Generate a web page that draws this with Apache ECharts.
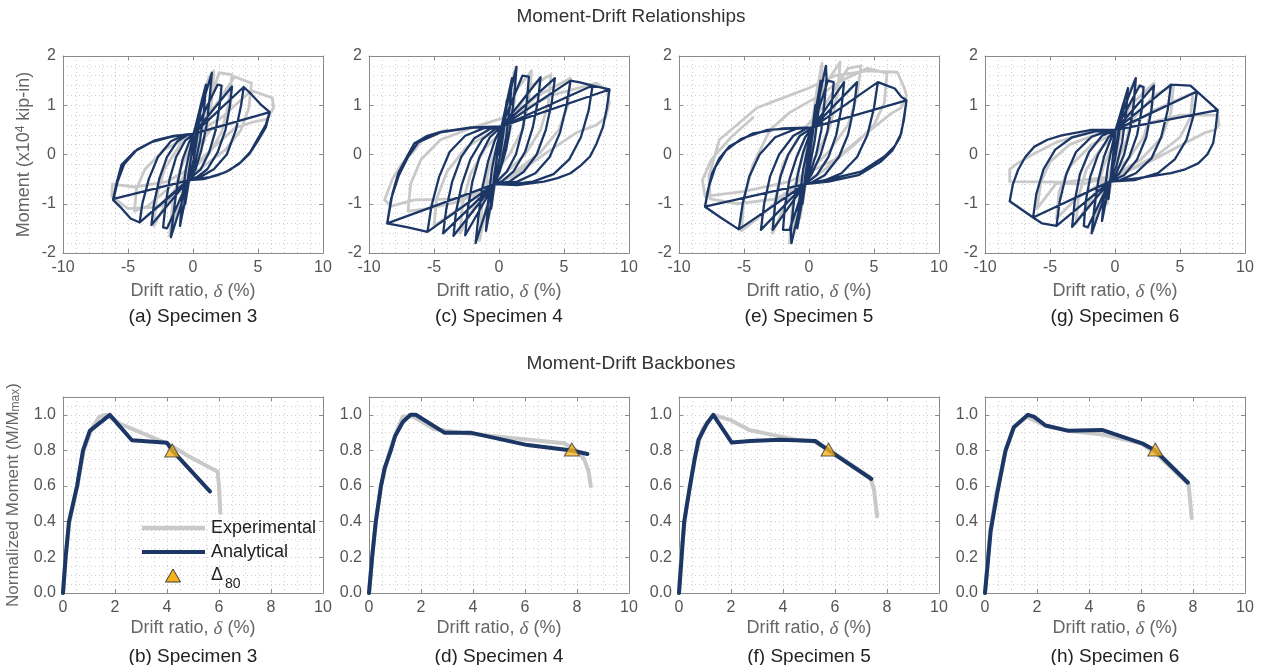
<!DOCTYPE html>
<html>
<head>
<meta charset="utf-8">
<script src="https://cdn.jsdelivr.net/npm/echarts@6/dist/echarts.min.js"></script>
<style>
  html, body { margin: 0; padding: 0; background: #fff; }
  #chart { width: 1262px; height: 665px; }
</style>
</head>
<body>
<div id="chart"></div>
<script>
// ---------- Figure text ----------
const mainTitles = ['Moment-Drift Relationships', 'Moment-Drift Backbones'];
const topLabels = ['(a) Specimen 3', '(c) Specimen 4', '(e) Specimen 5', '(g) Specimen 6'];
const bottomLabels = ['(b) Specimen 3', '(d) Specimen 4', '(f) Specimen 5', '(h) Specimen 6'];
const legendNames = ['Experimental', 'Analytical'];

// ---------- Axis ranges / ticks ----------
const hystDrift = { min: -10, max: 10, interval: 5, minor: 5 };
const hystMoment = { min: -2, max: 2, interval: 1, minor: 5 };
const bbDrift = { min: 0, max: 10, interval: 2, minor: 4 };
const bbMoment = { min: 0, max: 1.1, interval: 0.2, minor: 4 };

// ---------- Hysteresis: drift (%) vs moment (x10^4 kip-in) ----------
const spec3Analytical = [
  [0,0],[0.6,1.0],[0.35,0.4],[0.05,-0.1],[-0.3,-0.5],[-0.6,-1.0],[-0.35,-0.4],[-0.05,0.1],[0.05,0.42],
  [1.0,1.42],[0.85,0.9],[0.55,0.3],[0.15,-0.2],[-0.3,-0.5],[-1.0,-1.45],[-0.85,-0.9],[-0.55,-0.3],[-0.15,0.2],[0.05,0.42],
  [1.45,1.66],[1.3,1.2],[1.05,0.6],[0.65,0.1],[0.2,-0.3],[-0.3,-0.5],[-1.7,-1.68],[-1.5,-1.2],[-1.2,-0.6],[-0.8,-0.1],[-0.3,0.25],[0.05,0.42],
  [1.9,1.42],[2.2,1.40],[2.05,1.0],[1.75,0.5],[1.25,0.05],[0.6,-0.3],[-0.3,-0.5],[-2.0,-1.5],[-2.3,-1.48],[-2.1,-1.0],[-1.8,-0.5],[-1.3,-0.05],[-0.6,0.28],[0.05,0.42],
  [3.0,1.38],[2.85,1.0],[2.5,0.5],[1.9,0.05],[1.1,-0.3],[0.3,-0.46],[-0.3,-0.5],[-3.2,-1.43],[-3.0,-1.0],[-2.6,-0.5],[-2.0,-0.05],[-1.2,0.27],[-0.4,0.4],[0.05,0.42],
  [3.9,1.37],[3.7,1.0],[3.3,0.5],[2.6,0.0],[1.6,-0.3],[0.6,-0.45],[-0.3,-0.5],[-4.1,-1.38],[-3.9,-1.0],[-3.4,-0.5],[-2.7,-0.05],[-1.7,0.27],[-0.6,0.4],[0.05,0.42],
  [3.9,1.37],[4.5,1.22],[5.2,1.02],[5.9,0.86],[5.6,0.6],[5.0,0.33],[4.4,0.05],[3.7,-0.15],[2.8,-0.32],[1.9,-0.42],[0.8,-0.5],[-0.3,-0.52],
  [-4.1,-1.38],[-4.8,-1.3],[-5.5,-1.09],[-6.15,-0.92],[-5.9,-0.6],[-5.5,-0.21],[-4.5,0.06],[-3.2,0.25],[-1.7,0.36],[-0.5,0.41],[0.05,0.42],
  [5.9,0.86],[5.6,0.55],[5.0,0.28],[4.3,0.0],[3.5,-0.2],[2.5,-0.36],[1.3,-0.46],[-0.3,-0.52],
  [-6.1,-0.9],[-5.8,-0.55],[-5.3,-0.2],[-4.3,0.1],[-3.0,0.28],[-1.5,0.38],[0.05,0.42],[5.9,0.86]
];
const spec3Experimental = [
  [0,0],[0.7,1.15],[0.45,0.45],[0.0,-0.15],[-0.7,-1.1],[-0.45,-0.45],[0.0,0.15],[0.7,1.15],
  [1.2,1.55],[1.6,1.7],[1.4,1.0],[0.9,0.3],[0.0,-0.25],[-1.0,-0.9],[-1.8,-1.65],[-1.55,-0.95],[-1.0,-0.3],[0.0,0.25],[1.2,1.0],
  [2.0,1.66],[3.0,1.62],[2.75,1.05],[2.2,0.45],[1.2,0.0],[-0.3,-0.35],[-1.8,-0.85],[-3.0,-1.45],[-2.8,-0.85],[-2.2,-0.3],[-1.0,0.2],[0.5,0.55],[2.0,1.1],[3.2,1.58],
  [4.5,1.45],[4.3,0.95],[3.7,0.5],[2.5,0.1],[0.5,-0.3],[-1.5,-0.6],[-3.5,-1.05],[-4.5,-1.15],[-4.35,-0.7],[-3.7,-0.3],[-2.2,0.1],[0.0,0.4],[2.2,0.75],[4.5,1.3],
  [6.1,1.15],[6.2,0.95],[5.7,0.72],[4.5,0.65],[3.3,0.55],[1.8,0.2],[0.0,-0.25],[-2.0,-0.55],[-4.5,-0.66],[-6.2,-0.6],[-6.25,-0.85],[-5.0,-1.1],[-2.8,-1.07],[-2.0,-1.0],[-1.0,-0.6],[0.2,0.1],[1.5,0.55]
];

const spec4Analytical = [
  [0,0],[0.6,1.1],[0.4,0.55],[0.1,0.0],[-0.35,-0.6],[-0.6,-1.1],[-0.4,-0.5],[-0.1,0.05],[0.2,0.57],
  [1.0,1.55],[0.85,1.0],[0.55,0.35],[0.15,-0.2],[-0.35,-0.6],[-1.0,-1.55],[-0.85,-1.0],[-0.55,-0.3],[-0.15,0.2],[0.2,0.57],
  [1.35,1.78],[1.2,1.3],[0.95,0.7],[0.55,0.1],[0.05,-0.35],[-0.35,-0.6],[-1.8,-1.8],[-1.6,-1.3],[-1.3,-0.7],[-0.85,-0.15],[-0.3,0.3],[0.2,0.57],
  [1.8,1.6],[2.3,1.58],[2.15,1.1],[1.85,0.55],[1.3,0.0],[0.6,-0.35],[-0.35,-0.6],[-2.6,-1.64],[-2.4,-1.1],[-2.05,-0.55],[-1.5,-0.05],[-0.7,0.35],[0.2,0.57],
  [3.2,1.57],[3.0,1.1],[2.6,0.55],[2.0,0.05],[1.1,-0.35],[0.2,-0.55],[-0.35,-0.6],[-3.5,-1.65],[-3.3,-1.15],[-2.85,-0.6],[-2.2,-0.1],[-1.3,0.3],[-0.3,0.52],[0.2,0.57],
  [4.3,1.55],[4.05,1.05],[3.6,0.5],[2.9,0.0],[1.9,-0.35],[0.8,-0.55],[-0.35,-0.6],[-4.3,-1.6],[-4.05,-1.1],[-3.6,-0.55],[-2.9,-0.05],[-1.9,0.33],[-0.7,0.52],[0.2,0.57],
  [5.5,1.5],[5.2,1.0],[4.7,0.45],[3.9,-0.05],[2.8,-0.38],[1.4,-0.55],[-0.35,-0.6],[-5.5,-1.57],[-5.2,-1.05],[-4.6,-0.45],[-3.8,0.05],[-2.6,0.38],[-1.2,0.53],[0.2,0.57],
  [5.5,1.5],[6.3,1.46],[7.2,1.4],[6.9,0.9],[6.3,0.35],[5.4,-0.1],[4.2,-0.4],[2.6,-0.55],[1.0,-0.6],[-0.35,-0.6],
  [-5.5,-1.57],[-7.0,-1.48],[-8.6,-1.4],[-8.2,-0.8],[-7.75,-0.38],[-7.1,-0.05],[-6.5,0.23],[-5.5,0.38],[-4.45,0.46],[-2.15,0.55],[0.2,0.57],
  [7.2,1.4],[8.5,1.32],[8.3,0.95],[8.0,0.56],[7.5,0.22],[7.0,-0.04],[6.3,-0.22],[5.5,-0.38],[4.5,-0.48],[3.45,-0.55],[1.4,-0.62],[-0.35,-0.6],
  [-8.6,-1.4],[-8.3,-0.9],[-7.7,-0.42],[-7.0,-0.05],[-6.2,0.25],[-4.5,0.45],[-2.2,0.54],[0.2,0.57],[8.5,1.32]
];
const spec4Experimental = [
  [0,0],[0.8,1.3],[0.5,0.5],[0.0,-0.2],[-0.8,-1.3],[-0.5,-0.5],[0.0,0.2],[0.8,1.3],
  [1.3,1.78],[1.2,1.1],[0.8,0.4],[0.0,-0.3],[-1.0,-1.1],[-1.5,-1.75],[-1.3,-1.0],[-0.8,-0.3],[0.0,0.3],[1.0,1.2],
  [2.5,1.7],[2.3,1.1],[1.8,0.5],[0.8,0.0],[-0.8,-0.55],[-2.2,-1.2],[-3.0,-1.6],[-2.8,-1.0],[-2.2,-0.4],[-1.0,0.15],[0.8,0.6],[2.5,1.4],[4.0,1.62],
  [3.8,1.05],[3.2,0.5],[2.0,0.0],[0.0,-0.5],[-2.5,-1.0],[-5.0,-1.45],[-4.8,-0.9],[-4.0,-0.35],[-2.5,0.15],[0.0,0.55],[3.0,1.2],[5.5,1.55],
  [5.3,1.0],[4.6,0.5],[3.2,0.05],[0.5,-0.5],[-3.0,-0.95],[-5.5,-1.1],[-7.0,-1.15],[-6.8,-0.6],[-6.0,-0.1],[-4.5,0.3],[-2.0,0.55],[1.0,0.8],[4.0,1.2],[7.5,1.45],
  [8.3,1.3],[8.5,1.05],[8.2,0.75],[7.5,0.6],[6.0,0.45],[4.0,0.1],[1.0,-0.45],[-3.0,-0.9],[-6.5,-0.92],[-8.3,-1.05],[-8.8,-0.92],[-8.2,-0.5],[-7.5,-0.2],[-6.5,0.09],[-5.7,0.36],[-4.0,0.5]
];

const spec5Analytical = [
  [0,0],[0.5,1.0],[0.3,0.45],[0.0,-0.1],[-0.3,-0.6],[-0.5,-1.0],[-0.3,-0.45],[0.0,0.1],[0.3,0.55],
  [0.9,1.5],[0.75,0.95],[0.45,0.3],[0.05,-0.25],[-0.3,-0.6],[-0.9,-1.5],[-0.75,-0.95],[-0.45,-0.3],[-0.05,0.2],[0.3,0.55],
  [1.3,1.8],[1.35,1.55],[1.2,1.1],[0.95,0.5],[0.55,0.0],[0.05,-0.4],[-0.3,-0.6],[-1.35,-1.8],[-1.4,-1.55],[-1.2,-1.05],[-0.9,-0.45],[-0.45,0.05],[0.0,0.38],[0.3,0.55],
  [1.45,1.5],[1.9,1.47],[1.75,1.0],[1.4,0.45],[0.9,0.0],[0.2,-0.4],[-0.3,-0.6],[-1.5,-1.53],[-2.0,-1.53],[-1.85,-1.05],[-1.5,-0.5],[-0.95,-0.05],[-0.3,0.35],[0.3,0.55],
  [2.7,1.47],[2.5,0.95],[2.1,0.4],[1.5,-0.05],[0.6,-0.42],[-0.3,-0.6],[-2.8,-1.53],[-2.6,-1.0],[-2.2,-0.45],[-1.6,0.0],[-0.7,0.38],[0.3,0.55],
  [3.7,1.47],[3.45,0.95],[3.0,0.4],[2.3,-0.05],[1.2,-0.42],[0.2,-0.57],[-0.3,-0.6],[-3.7,-1.53],[-3.45,-1.0],[-3.0,-0.45],[-2.3,0.0],[-1.2,0.38],[-0.2,0.53],[0.3,0.55],
  [5.3,1.47],[5.0,0.95],[4.5,0.4],[3.7,-0.05],[2.5,-0.38],[1.0,-0.55],[-0.3,-0.6],[-5.4,-1.52],[-5.1,-1.0],[-4.6,-0.45],[-3.8,0.0],[-2.6,0.35],[-1.0,0.52],[0.3,0.55],
  [5.3,1.47],[6.0,1.4],[6.6,1.34],[7.1,1.17],[7.5,1.1],[7.3,0.75],[7.1,0.43],[6.6,0.17],[5.8,-0.04],[4.0,-0.35],[1.6,-0.5],[-0.3,-0.6],
  [-5.4,-1.52],[-6.8,-1.28],[-8.0,-1.06],[-7.8,-0.75],[-7.45,-0.38],[-6.9,-0.08],[-6.15,0.16],[-4.3,0.43],[-2.0,0.53],[0.3,0.55],
  [7.5,1.1],[7.3,0.7],[7.0,0.35],[6.4,0.08],[5.5,-0.15],[3.8,-0.42],[1.5,-0.55],[-0.3,-0.6],
  [-8.0,-1.06],[-7.7,-0.65],[-7.2,-0.25],[-6.4,0.08],[-5.2,0.32],[-3.2,0.5],[0.3,0.55],[7.5,1.1]
];
const spec5Experimental = [
  [0,0],[0.6,1.3],[0.4,0.5],[0.0,-0.2],[-0.7,-1.3],[-0.4,-0.5],[0.0,0.2],[0.6,1.3],
  [1.0,1.85],[0.9,1.2],[0.5,0.45],[-0.3,-0.35],[-1.5,-1.8],[-1.3,-1.1],[-0.8,-0.3],[0.0,0.35],[1.2,1.4],
  [2.4,1.88],[2.2,1.25],[1.6,0.55],[0.5,-0.05],[-1.2,-0.65],[-2.8,-1.6],[-2.6,-0.9],[-2.0,-0.2],[-0.6,0.45],[1.2,1.0],[3.0,1.75],
  [4.0,1.8],[3.7,1.2],[3.0,0.6],[1.5,0.05],[-1.0,-0.6],[-3.5,-1.2],[-5.2,-1.55],[-5.0,-0.9],[-4.3,-0.2],[-3.0,0.5],[-1.5,0.85],[0.5,1.15],[2.5,1.5],[4.5,1.75],[6.0,1.65],
  [5.8,1.05],[5.0,0.6],[3.5,0.2],[1.0,-0.35],[-2.5,-0.9],[-5.5,-1.0],[-7.6,-0.9],[-7.7,-0.45],[-6.9,0.3],[-5.1,0.7],[-4.0,0.95],[-2.0,1.15],[0.0,1.35],[2.0,1.6],[4.5,1.7],[6.8,1.67],
  [7.3,1.37],[7.5,1.2],[7.1,0.95],[6.3,0.83],[4.5,0.45],[2.0,-0.1],[-1.5,-0.55],[-5.0,-0.75],[-8.0,-0.85],[-8.2,-0.52],[-7.5,-0.1],[-6.0,0.35],[-4.3,0.75]
];

const spec6Analytical = [
  [0,0],[0.5,0.9],[0.3,0.4],[0.0,-0.1],[-0.4,-0.55],[-0.5,-0.9],[-0.3,-0.4],[-0.1,0.1],[0.05,0.5],
  [1.0,1.35],[0.85,0.85],[0.55,0.25],[0.1,-0.25],[-0.4,-0.55],[-1.0,-1.35],[-0.85,-0.85],[-0.55,-0.25],[-0.2,0.2],[0.05,0.5],
  [1.6,1.55],[1.45,1.05],[1.15,0.5],[0.7,0.0],[0.1,-0.38],[-0.4,-0.55],[-1.8,-1.6],[-1.6,-1.1],[-1.3,-0.55],[-0.85,-0.05],[-0.3,0.33],[0.05,0.5],
  [1.9,1.4],[2.2,1.37],[2.05,0.9],[1.7,0.4],[1.1,-0.05],[0.3,-0.4],[-0.4,-0.55],[-2.1,-1.48],[-2.4,-1.45],[-2.25,-0.95],[-1.9,-0.45],[-1.3,0.0],[-0.5,0.35],[0.05,0.5],
  [3.0,1.4],[2.8,0.9],[2.4,0.35],[1.7,-0.1],[0.7,-0.42],[-0.4,-0.55],[-3.3,-1.47],[-3.1,-0.95],[-2.7,-0.4],[-2.0,0.05],[-1.0,0.38],[0.05,0.5],
  [4.3,1.42],[4.05,0.9],[3.55,0.35],[2.8,-0.08],[1.6,-0.38],[0.4,-0.52],[-0.4,-0.55],[-4.5,-1.45],[-4.25,-0.95],[-3.75,-0.4],[-3.0,0.05],[-1.8,0.36],[-0.5,0.48],[0.05,0.5],
  [4.3,1.42],[5.8,1.4],[6.3,1.28],[6.05,0.8],[5.5,0.3],[4.6,-0.1],[3.3,-0.38],[1.5,-0.52],[-0.4,-0.55],
  [-4.5,-1.45],[-5.6,-1.4],[-6.3,-1.28],[-6.05,-0.8],[-5.5,-0.3],[-4.6,0.1],[-3.3,0.35],[-1.5,0.47],[0.05,0.5],
  [6.3,1.28],[7.9,0.9],[7.75,0.55],[7.55,0.23],[7.1,0.0],[6.4,-0.18],[5.4,-0.3],[4.3,-0.38],[1.8,-0.48],[-0.4,-0.55],
  [-6.3,-1.28],[-8.1,-0.95],[-7.85,-0.6],[-7.45,-0.31],[-6.9,-0.05],[-6.2,0.16],[-5.2,0.3],[-4.1,0.39],[-1.8,0.5],[0.05,0.5],[7.9,0.9]
];
const spec6Experimental = [
  [0,0],[0.6,1.0],[0.4,0.4],[0.0,-0.15],[-0.6,-1.0],[-0.4,-0.4],[0.0,0.15],[0.6,1.0],
  [1.6,1.55],[1.4,0.95],[0.9,0.3],[0.0,-0.25],[-1.0,-0.85],[-1.7,-1.55],[-1.5,-0.9],[-0.9,-0.25],[0.0,0.3],[1.2,1.0],
  [3.0,1.45],[2.8,0.9],[2.2,0.35],[1.0,-0.1],[-1.0,-0.55],[-3.0,-1.4],[-2.8,-0.85],[-2.2,-0.3],[-1.0,0.15],[1.0,0.6],[3.0,1.2],[4.5,1.4],
  [4.3,0.85],[3.6,0.35],[2.0,-0.1],[-0.5,-0.5],[-3.0,-0.9],[-4.5,-1.3],[-4.3,-0.75],[-3.5,-0.25],[-1.8,0.2],[0.5,0.5],[3.0,0.9],[6.0,1.25],
  [5.8,0.75],[5.0,0.35],[3.3,0.0],[0.5,-0.4],[-2.5,-0.6],[-4.5,-0.58],[-6.0,-1.1],[-5.7,-0.55],[-5.0,-0.15],[-3.5,0.2],[-1.0,0.45],[2.0,0.6],[5.0,0.8],[7.9,0.8],
  [8.0,0.6],[7.7,0.5],[7.0,0.45],[5.5,0.25],[3.0,-0.1],[0.0,-0.45],[-4.0,-0.56],[-8.1,-0.55],[-8.1,-0.3],[-7.5,-0.18],[-6.2,0.02],[-4.5,0.25],[-2.0,0.45]
];

// ---------- Backbones: drift (%) vs normalized moment M/Mmax ----------
const bb3Analytical = [[0,0],[0.1,0.2],[0.23,0.4],[0.54,0.6],[0.77,0.8],[1.03,0.91],[1.8,1.0],[2.65,0.857],[4.0,0.843],[4.2,0.80],[5.65,0.57]];
const bb3Experimental = [[0,0],[0.1,0.2],[0.25,0.4],[0.55,0.6],[0.8,0.8],[1.1,0.92],[1.4,0.99],[1.65,1.0],[2.2,0.95],[3.0,0.9],[4.0,0.84],[4.8,0.77],[5.95,0.68],[6.0,0.6],[6.05,0.45]];
const bb4Analytical = [[0,0],[0.12,0.2],[0.26,0.4],[0.46,0.6],[0.6,0.7],[0.84,0.8],[1.0,0.88],[1.3,0.96],[1.6,1.0],[1.8,1.0],[2.9,0.9],[3.9,0.9],[6.1,0.83],[7.8,0.8],[8.4,0.78]];
const bb4Experimental = [[0,0],[0.12,0.2],[0.26,0.4],[0.46,0.6],[0.8,0.8],[1.1,0.92],[1.3,0.99],[1.7,0.99],[2.5,0.92],[3.5,0.9],[5.5,0.87],[7.5,0.84],[8.0,0.8],[8.28,0.75],[8.45,0.68],[8.53,0.6]];
const bb5Analytical = [[0,0],[0.1,0.2],[0.2,0.4],[0.4,0.58],[0.6,0.75],[0.75,0.86],[1.07,0.95],[1.32,1.0],[2.03,0.844],[2.74,0.853],[3.9,0.86],[5.24,0.853],[5.76,0.80],[7.4,0.64]];
const bb5Experimental = [[0,0],[0.1,0.25],[0.3,0.5],[0.6,0.75],[0.9,0.92],[1.3,1.0],[2.0,0.97],[2.7,0.915],[3.5,0.89],[4.5,0.86],[5.2,0.85],[5.8,0.8],[7.35,0.65],[7.5,0.58],[7.62,0.43]];
const bb6Analytical = [[0,0],[0.22,0.35],[0.47,0.56],[0.79,0.8],[1.11,0.93],[1.65,1.0],[1.88,0.99],[2.33,0.94],[3.22,0.91],[4.5,0.915],[6.04,0.84],[6.55,0.8],[7.8,0.62]];
const bb6Experimental = [[0,0],[0.2,0.35],[0.45,0.57],[0.8,0.8],[1.1,0.93],[1.6,0.99],[2.3,0.94],[3.2,0.91],[4.5,0.89],[6.0,0.84],[6.6,0.78],[7.83,0.61],[7.9,0.5],[7.95,0.42]];
// drift at 80 % of peak moment
const delta80 = [[4.2,0.80],[7.8,0.805],[5.75,0.805],[6.55,0.805]];

const hystAnalytical = [spec3Analytical, spec4Analytical, spec5Analytical, spec6Analytical];
const hystExperimental = [spec3Experimental, spec4Experimental, spec5Experimental, spec6Experimental];
const bbAnalytical = [bb3Analytical, bb4Analytical, bb5Analytical, bb6Analytical];
const bbExperimental = [bb3Experimental, bb4Experimental, bb5Experimental, bb6Experimental];

// ---------- Layout & style ----------
const FONT = '"Liberation Sans", Arial, sans-serif';
const NAVY = '#1c3765';
const GREY = '#c9c9c9';
const AXIS = '#8a8a8a';
const GRIDDOT = '#cdcdcd';
const colLeft = [63, 369, 679, 985];
const plotW = 260;
const rows = [{ top: 56, height: 197 }, { top: 397, height: 196 }];

const grids = [], xAxes = [], yAxes = [], series = [], titles = [];

function dotted() { return { color: GRIDDOT, type: [1, 3], width: 1 }; }

function addPanel(row, col, xr, yr, opts) {
  const gi = grids.length;
  grids.push({ left: colLeft[col], top: rows[row].top, width: plotW, height: rows[row].height, containLabel: false });
  const common = (r) => ({
    type: 'value', gridIndex: gi, min: r.min, max: r.max, interval: r.interval,
    axisLine: { show: true, onZero: false, lineStyle: { color: AXIS, width: 1 } },
    axisTick: { show: true, inside: true, length: 4, lineStyle: { color: AXIS } }
  });
  // bottom x axis
  xAxes.push(Object.assign(common(xr), {
    position: 'bottom',
    axisLabel: { color: '#555', fontSize: 16, fontFamily: FONT, margin: 7, showMinLabel: true, showMaxLabel: true },
    splitLine: { show: true, lineStyle: dotted() },
    minorTick: { show: false, splitNumber: xr.minor },
    minorSplitLine: { show: true, lineStyle: dotted() },
    name: 'Drift ratio, {d|δ} (%)', nameLocation: 'middle', nameGap: opts.xNameGap,
    nameTextStyle: { color: '#666', fontSize: 18, fontFamily: FONT,
      rich: { d: { fontStyle: 'italic', fontFamily: '"Liberation Serif", serif', fontSize: 19, color: '#666' } } }
  }));
  // top x axis (box + ticks)
  xAxes.push(Object.assign(common(xr), {
    position: 'top', axisLabel: { show: false }, splitLine: { show: false }
  }));
  // left y axis
  const yLeft = Object.assign(common(yr), {
    position: 'left',
    axisLabel: { color: '#555', fontSize: 16, fontFamily: FONT, margin: 7, showMinLabel: true,
      showMaxLabel: opts.yShowMax, formatter: opts.yFormat },
    splitLine: { show: true, lineStyle: dotted() },
    minorTick: { show: false, splitNumber: yr.minor },
    minorSplitLine: { show: true, lineStyle: dotted() }
  });
  if (opts.yName) {
    Object.assign(yLeft, {
      name: opts.yName, nameLocation: 'middle', nameGap: opts.yNameGap,
      nameTextStyle: { color: '#666', fontSize: opts.yNameSize, fontFamily: FONT, rich: opts.yRich }
    });
  }
  yAxes.push(yLeft);
  // right y axis (box + ticks)
  yAxes.push(Object.assign(common(yr), {
    position: 'right', axisLabel: { show: false }, splitLine: { show: false }
  }));
  return gi;
}

function lineSeries(gi, data, color, width, z) {
  return {
    type: 'line', xAxisIndex: gi * 2, yAxisIndex: gi * 2, data: data,
    showSymbol: false, symbol: 'none', silent: true, z: z,
    lineStyle: { color: color, width: width, join: 'round', cap: 'round' }
  };
}

// top row: hysteresis panels
for (let c = 0; c < 4; c++) {
  const gi = addPanel(0, c, hystDrift, hystMoment, {
    xNameGap: 29,
    yShowMax: true,
    yFormat: (v) => String(v),
    yName: c === 0 ? 'Moment (x10{sup|4} kip-in)' : null,
    yNameSize: 18,
    yNameGap: 30,
    yRich: { sup: { fontSize: 12, lineHeight: 12, verticalAlign: 'top', color: '#666', fontFamily: FONT } }
  });
  series.push(lineSeries(gi, hystExperimental[c], GREY, 2.8, 2));
  series.push(lineSeries(gi, hystAnalytical[c], NAVY, 2.3, 3));
  titles.push({ text: topLabels[c], left: colLeft[c] + plotW / 2, top: 307, textAlign: 'center', padding: 0,
    textStyle: { fontSize: 19, fontWeight: 'normal', color: '#222', fontFamily: FONT } });
}

// bottom row: backbone panels
for (let c = 0; c < 4; c++) {
  const gi = addPanel(1, c, bbDrift, bbMoment, {
    xNameGap: 26,
    yShowMax: false,
    yFormat: (v) => v.toFixed(1),
    yName: c === 0 ? 'Normalized Moment (M/M{sub|max})' : null,
    yNameSize: 17,
    yNameGap: 41,
    yRich: { sub: { fontSize: 12, lineHeight: 14, verticalAlign: 'bottom', color: '#666', fontFamily: FONT } }
  });
  series.push(lineSeries(gi, bbExperimental[c], GREY, 4, 2));
  series.push(lineSeries(gi, bbAnalytical[c], NAVY, 4, 3));
  series.push({
    type: 'scatter', xAxisIndex: gi * 2, yAxisIndex: gi * 2, data: [delta80[c]], silent: true, z: 5,
    symbol: 'triangle', symbolSize: [15, 13],
    itemStyle: { color: '#f5b31b', borderColor: '#3a3a3a', borderWidth: 1 }
  });
  titles.push({ text: bottomLabels[c], left: colLeft[c] + plotW / 2, top: 647, textAlign: 'center', padding: 0,
    textStyle: { fontSize: 19, fontWeight: 'normal', color: '#222', fontFamily: FONT } });
}

titles.push({ text: mainTitles[0], left: 631, top: 7, textAlign: 'center', padding: 0,
  textStyle: { fontSize: 19, fontWeight: 'normal', color: '#333', fontFamily: FONT } });
titles.push({ text: mainTitles[1], left: 631, top: 354, textAlign: 'center', padding: 0,
  textStyle: { fontSize: 19, fontWeight: 'normal', color: '#333', fontFamily: FONT } });

// legend drawn inside the Specimen 3 backbone panel
const legendText = { fill: '#222', fontSize: 18, fontFamily: FONT, verticalAlign: 'middle' };
const graphic = [
  { type: 'line', shape: { x1: 142, y1: 528, x2: 205, y2: 528 }, style: { stroke: GREY, lineWidth: 4.5 }, z: 10 },
  { type: 'text', x: 211, y: 528, style: Object.assign({ text: legendNames[0] }, legendText), z: 10 },
  { type: 'line', shape: { x1: 142, y1: 552, x2: 205, y2: 552 }, style: { stroke: NAVY, lineWidth: 4 }, z: 10 },
  { type: 'text', x: 211, y: 552, style: Object.assign({ text: legendNames[1] }, legendText), z: 10 },
  { type: 'polygon', shape: { points: [[173, 569], [180.5, 582], [165.5, 582]] },
    style: { fill: '#f5b31b', stroke: '#3a3a3a', lineWidth: 1 }, z: 10 },
  { type: 'text', x: 211, y: 575, style: Object.assign({ text: 'Δ' }, legendText), z: 10 },
  { type: 'text', x: 225, y: 584, style: { text: '80', fill: '#222', fontSize: 14, fontFamily: FONT, verticalAlign: 'middle' }, z: 10 }
];

const chart = echarts.init(document.getElementById('chart'), null, { renderer: 'canvas' });
chart.setOption({
  animation: false,
  backgroundColor: '#ffffff',
  textStyle: { fontFamily: FONT },
  title: titles,
  grid: grids,
  xAxis: xAxes,
  yAxis: yAxes,
  series: series,
  graphic: graphic
});
</script>
</body>
</html>
